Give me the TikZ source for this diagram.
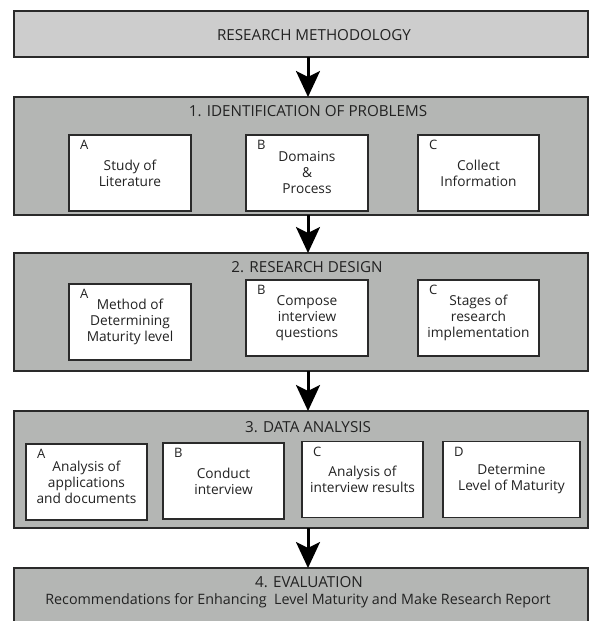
\documentclass[tikz,border=0pt]{standalone}
\usepackage{fontspec}
\setmainfont{Open Sans}
\usetikzlibrary{arrows.meta}
\definecolor{topfill}{HTML}{CDCDCD}
\definecolor{boxfill}{HTML}{B4B6B4}
\definecolor{edge}{HTML}{2A2A2A}
\definecolor{ink}{HTML}{222222}
\tikzset{
  phase/.style={draw=edge, line width=1.5pt, fill=boxfill, minimum width=574pt, inner sep=0pt, outer sep=0pt},
  headbox/.style={draw=edge, line width=1.5pt, fill=topfill, minimum width=574pt, minimum height=46pt, inner sep=0pt, outer sep=0pt},
  itembox/.style={draw=edge, line width=1.3pt, fill=white, minimum height=76pt, inner sep=0pt, outer sep=0pt, align=center, font=\fontsize{13.7}{16}\selectfont, text=ink},
  ttl/.style={font=\fontsize{15.2}{17}\selectfont, text=ink, inner sep=0pt},
  rec/.style={font=\fontsize{14.3}{16}\selectfont, text=ink, inner sep=0pt},
  letter/.style={font=\fontsize{13}{14}\selectfont, text=ink, inner sep=0pt},
  bigarrow/.style={line width=3pt, draw=black, -{Stealth[length=26pt, width=24pt, inset=6pt]}}
}
\begin{document}
\begin{tikzpicture}[x=1pt, y=-1pt]
\clip (0,0) rectangle (589,621);
\useasboundingbox (0,0) rectangle (589,621);
% boxes
\node[headbox] (rm) at (301,34) {};
\node[ttl] (rmt) at (314,35) {RESEARCH METHODOLOGY};
\node[phase, minimum height=118pt] (b1) at (301,156) {};
\node[ttl] (b1t) at (308,111) {1. IDENTIFICATION OF PROBLEMS};
\node[phase, minimum height=118pt] (b2) at (301,312) {};
\node[ttl] (b2t) at (307,267) {2. RESEARCH DESIGN};
\node[phase, minimum height=117pt] (b3) at (301,469.5) {};
\node[ttl] (b3t) at (308,427) {3. DATA ANALYSIS};
\node[phase, minimum height=72pt] (b4) at (301,604) {};
\node[ttl] (b4t) at (309,582) {4. EVALUATION};
\node[rec] (b4r) at (298,601) {Recommendations for Enhancing\ \ Level Maturity and Make Research Report};
% row 1
\node[itembox, minimum width=122pt] (a1) at (130,173) {Study of\\Literature};
\node[itembox, minimum width=122pt] (bb1) at (307,173) {Domains\\\&\\Process};
\node[itembox, minimum width=121pt] (c1) at (478.5,173) {Collect\\Information};
% row 2
\node[itembox, minimum width=122pt] (a2) at (130,322) {Method of\\Determining\\Maturity level};
\node[itembox, minimum width=122pt] (bb2) at (307,318) {Compose\\interview\\questions};
\node[itembox, minimum width=121pt] (c2) at (478.5,318) {Stages of\\research\\implementation};
% row 3
\node[itembox, minimum width=121pt] (a3) at (86.5,482) {Analysis of\\applications\\and documents};
\node[itembox, minimum width=121pt] (bb3) at (223.5,481) {Conduct\\interview};
\node[itembox, minimum width=121pt] (c3) at (362.5,479.5) {Analysis of\\interview results};
\node[itembox, minimum width=137pt] (d3) at (511.5,479.5) {Determine\\Level of Maturity};
% letters
\foreach \n/\l in {a1/A,bb1/B,c1/C,a2/A,bb2/B,c2/C,a3/A,bb3/B,c3/C,d3/D}{
  \node[letter, anchor=west] (\n l) at ([xshift=11pt, yshift=-10pt]\n.north west) {\l};
}
% arrows
\draw[bigarrow] ([xshift=7pt]rm.south) -- ([xshift=7pt]b1.north);
\draw[bigarrow] ([xshift=7pt]b1.south) -- ([xshift=7pt]b2.north);
\draw[bigarrow] ([xshift=7pt]b2.south) -- ([xshift=7pt]b3.north);
\draw[bigarrow] ([xshift=7pt]b3.south) -- ([xshift=7pt]b4.north);
\end{tikzpicture}
\end{document}
